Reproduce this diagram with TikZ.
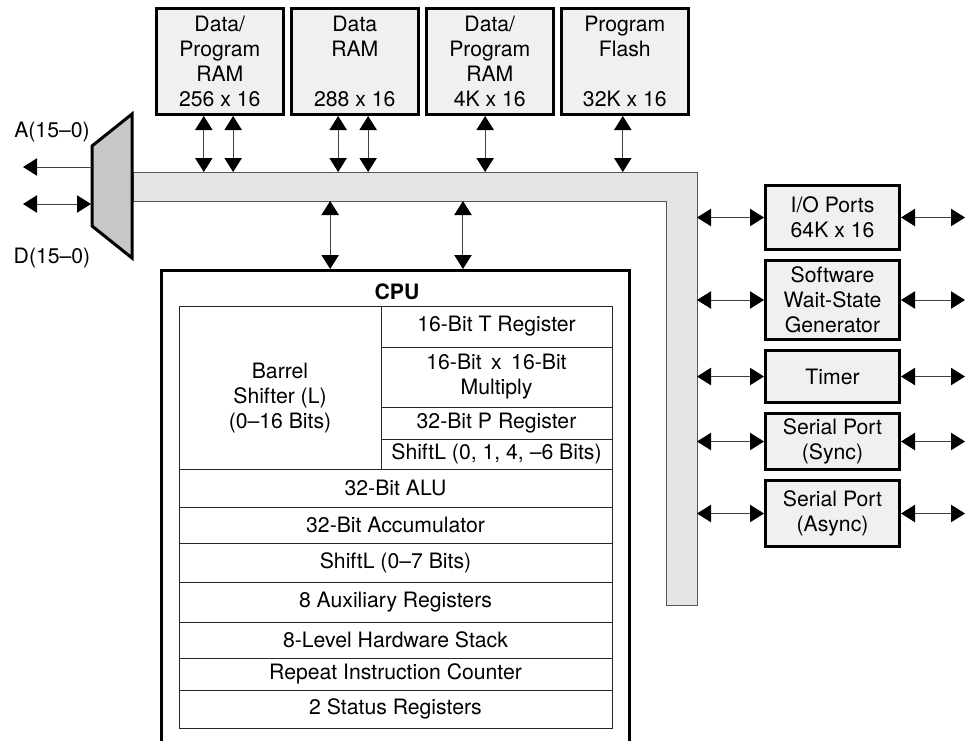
\documentclass[tikz,border=0pt]{standalone}
\usepackage{fontspec}
\setmainfont{TeX Gyre Heros}
\usetikzlibrary{arrows.meta,positioning}
\newcommand{\blockfont}{\fontsize{15.9}{18.75}\selectfont}

\begin{document}
\begin{tikzpicture}[x=0.75pt, y=-0.75pt, node distance=6pt,
  >={Triangle[length=10.5pt,width=13pt,color=black]},
  every node/.style={font=\blockfont}]
\tikzstyle{mem}=[draw, line width=2.25pt, fill=black!6, align=center, minimum width=95pt, minimum height=79.5pt, inner sep=2pt]
\tikzstyle{per}=[draw, line width=2.25pt, fill=black!6, align=center, minimum width=100.5pt, inner sep=2pt]
\tikzstyle{cell}=[draw=black!85, line width=0.75pt, align=center, outer sep=0pt, inner sep=2pt]
\tikzstyle{link}=[<->, line width=0.75pt, draw=black!75]
\useasboundingbox (0,0) rectangle (966,740);
\clip (0,0) rectangle (966,740);

% internal bus
\draw[fill=black!10, draw=black!65, line width=0.75pt] (133,172) -- (697,172) -- (697,605) -- (666,605) -- (666,201) -- (133,201) -- cycle;
\coordinate (bustop) at (0,172);
\coordinate (busbot) at (0,201);
\coordinate (busright) at (697,0);
\coordinate (rend) at (965,0);

% external interface
\draw[fill=black!22, line width=2.25pt] (92,146) -- (132,114) -- (132,258) -- (92,226) -- cycle;
\coordinate (muxa) at (92,167);
\coordinate (muxd) at (91,204);
\coordinate (aout) at (23,167);
\coordinate (dout) at (23,204);
\node (alab) at (52,132) {A(15–0)};
\node (dlab) at (52,258) {D(15–0)};
\draw[link, ->] (muxa) -- (aout);
\draw[link] (dout) -- (muxd);

% memories
\node[mem] (ram1) at (219.8,61.5) {Data/\\Program\\RAM\\256 x 16};
\node[mem, right=4pt of ram1] (ram2) {Data\\RAM\\[18.75pt]288 x 16};
\node[mem, right=4pt of ram2] (ram3) {Data/\\Program\\RAM\\4K x 16};
\node[mem, right=4pt of ram3] (flash) {Program\\Flash\\[18.75pt]32K x 16};
\draw[link] ([xshift=-12pt]ram1.south) -- ([xshift=-12pt]ram1.south |- bustop);
\draw[link] ([xshift=10pt]ram1.south) -- ([xshift=10pt]ram1.south |- bustop);
\draw[link] ([xshift=-12.5pt]ram2.south) -- ([xshift=-12.5pt]ram2.south |- bustop);
\draw[link] ([xshift=10pt]ram2.south) -- ([xshift=10pt]ram2.south |- bustop);
\draw[link] ([xshift=-3.5pt]ram3.south) -- ([xshift=-3.5pt]ram3.south |- bustop);
\draw[link] ([xshift=-1.5pt]flash.south) -- ([xshift=-1.5pt]flash.south |- bustop);

% peripherals
\node[per, minimum height=48pt] (io) at (832.5,217.5) {I/O Ports\\64K x 16};
\node[per, minimum height=59.25pt, below=of io] (wait) {Software\\Wait-State\\Generator};
\node[per, minimum height=39pt, below=of wait] (timer) {Timer};
\node[per, minimum height=42pt, below=of timer] (sync) {Serial Port\\(Sync)};
\node[per, minimum height=49.5pt, below=of sync] (async) {Serial Port\\(Async)};
\foreach \p in {io,wait,timer,sync,async} {
  \draw[link] (busright |- \p.west) -- (\p.west);
  \draw[link] (\p.east) -- (\p.east -| rend);
}

% CPU
\node[draw, fill=white, line width=2.25pt, anchor=north, minimum width=351pt, minimum height=390pt] (cpu) at (395.5,269) {};
\node[font=\blockfont\bfseries] (cputitle) at (397,292) {CPU};
\draw[link] ([xshift=-49pt]cpu.north |- busbot) -- ([xshift=-49pt]cpu.north);
\draw[link] ([xshift=50.6pt]cpu.north |- busbot) -- ([xshift=50.6pt]cpu.north);

\node[cell, anchor=north west, minimum width=151.5pt, minimum height=122.25pt,
  label={[align=center, yshift=-8pt]center:Barrel\\Shifter (L)\\(0–16 Bits)}] (barrel) at (179,306) {};
\node[cell, anchor=north west, minimum width=173.25pt, minimum height=30.75pt] (treg) at (barrel.north east) {16-Bit T Register};
\node[cell, below=0pt of treg, minimum width=173.25pt, minimum height=45pt] (mult) {16-Bit\, x\, 16-Bit\\Multiply};
\node[cell, below=0pt of mult, minimum width=173.25pt, minimum height=24pt] (preg) {32-Bit P Register};
\node[cell, below=0pt of preg, minimum width=173.25pt, minimum height=22.5pt] (pshift) {ShiftL (0, 1, 4, –6 Bits)};
\node[cell, anchor=north west, minimum width=324.75pt, minimum height=28.5pt] (alu) at (barrel.south west) {32-Bit ALU};
\node[cell, below=0pt of alu, minimum width=324.75pt, minimum height=27pt] (acc) {32-Bit Accumulator};
\node[cell, below=0pt of acc, minimum width=324.75pt, minimum height=29.25pt] (ashift) {ShiftL (0–7 Bits)};
\node[cell, below=0pt of ashift, minimum width=324.75pt, minimum height=30pt] (aux) {8 Auxiliary Registers};
\node[cell, below=0pt of aux, minimum width=324.75pt, minimum height=27pt] (stack) {8-Level Hardware Stack};
\node[cell, below=0pt of stack, minimum width=324.75pt, minimum height=24pt] (rpt) {Repeat Instruction Counter};
\node[cell, below=0pt of rpt, minimum width=324.75pt, minimum height=28.5pt] (status) {2 Status Registers};
\end{tikzpicture}
\end{document}
